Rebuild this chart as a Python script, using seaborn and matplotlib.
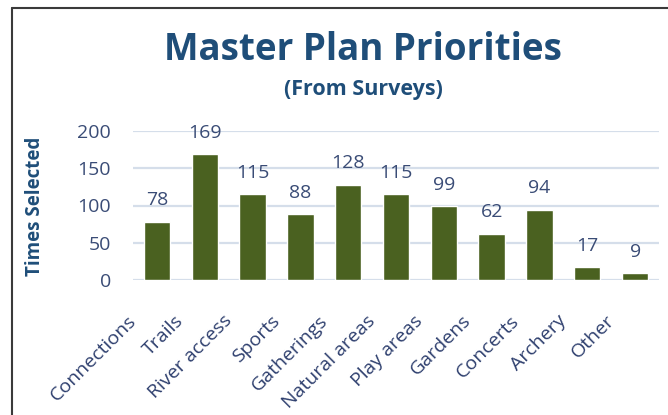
import numpy as np
import pandas as pd
import matplotlib
matplotlib.use('Agg')
import matplotlib.pyplot as plt
import matplotlib.transforms as mtransforms
import seaborn as sns

# Values
categories = ['Connections', 'Trails', 'River access', 'Sports', 'Gatherings',
              'Natural areas', 'Play areas', 'Gardens', 'Concerts', 'Archery', 'Other']
times_selected = [78, 169, 115, 88, 128, 115, 99, 62, 94, 17, 9]
y_ticks = [0, 50, 100, 150, 200]

title_text = 'Master Plan Priorities'
subtitle_text = '(From Surveys)'
ylabel_text = 'Times Selected'

navy = '#1F4E79'
slate = '#3A4C76'
bar_green = '#4A6120'
grid_col = '#D5DEEA'


def main():
    df = pd.DataFrame({'category': categories, 'count': times_selected})

    sns.set_style('white')
    plt.rcParams['font.family'] = ['Open Sans', 'DejaVu Sans']

    fig = plt.figure(figsize=(6.68, 4.15), dpi=100)
    ax = fig.add_axes([133 / 668, 1 - 280 / 415, (659 - 133) / 668, (280 - 131) / 415])

    sns.barplot(data=df, x='category', y='count', color=bar_green, width=0.55,
                saturation=1, ax=ax, zorder=3)

    ax.set_ylim(0, 200)
    ax.set_xlim(-0.5, len(categories) - 0.5)
    ax.set_yticks(y_ticks)
    ax.yaxis.grid(True, color=grid_col, linewidth=1.6, zorder=0)
    ax.set_axisbelow(True)
    for s in ax.spines.values():
        s.set_visible(False)
    ax.tick_params(axis='y', length=0, pad=16, labelsize=14, labelcolor=slate)
    ax.tick_params(axis='x', length=0, pad=4, labelsize=14, labelcolor='#2E3F6E')
    ax.set_xticks(range(len(categories)))
    ax.set_xticklabels(categories, rotation=45, ha='right', rotation_mode='anchor')
    shift = mtransforms.ScaledTranslation(-0.3, -0.26, fig.dpi_scale_trans)
    for lab in ax.get_xticklabels():
        lab.set_transform(lab.get_transform() + shift)
    ax.set_xlabel('')
    ax.set_ylabel('')

    # value labels above bars
    for cont in ax.containers:
        ax.bar_label(cont, padding=9, fontsize=14, color=slate)

    fig.text(35 / 668, 1 - 206 / 415, ylabel_text, rotation=90, ha='center', va='center',
             fontsize=13.5, fontweight='bold', color=navy)
    fig.text(363 / 668, 1 - 50 / 415, title_text, ha='center', va='center',
             fontsize=26.5, fontweight='bold', color=navy)
    fig.text(363 / 668, 1 - 89 / 415, subtitle_text, ha='center', va='center',
             fontsize=15.5, fontweight='bold', color=navy)

    # chart frame (left and top edges visible in the crop)
    frame_col = '#3A3A3A'
    fig.add_artist(plt.Line2D([12 / 668, 12 / 668], [0, 1 - 8 / 415], color=frame_col, lw=1.5))
    fig.add_artist(plt.Line2D([12 / 668, 1], [1 - 8 / 415, 1 - 8 / 415], color=frame_col, lw=1.5))

    fig.savefig('out.png', dpi=100, facecolor='white')


main()
